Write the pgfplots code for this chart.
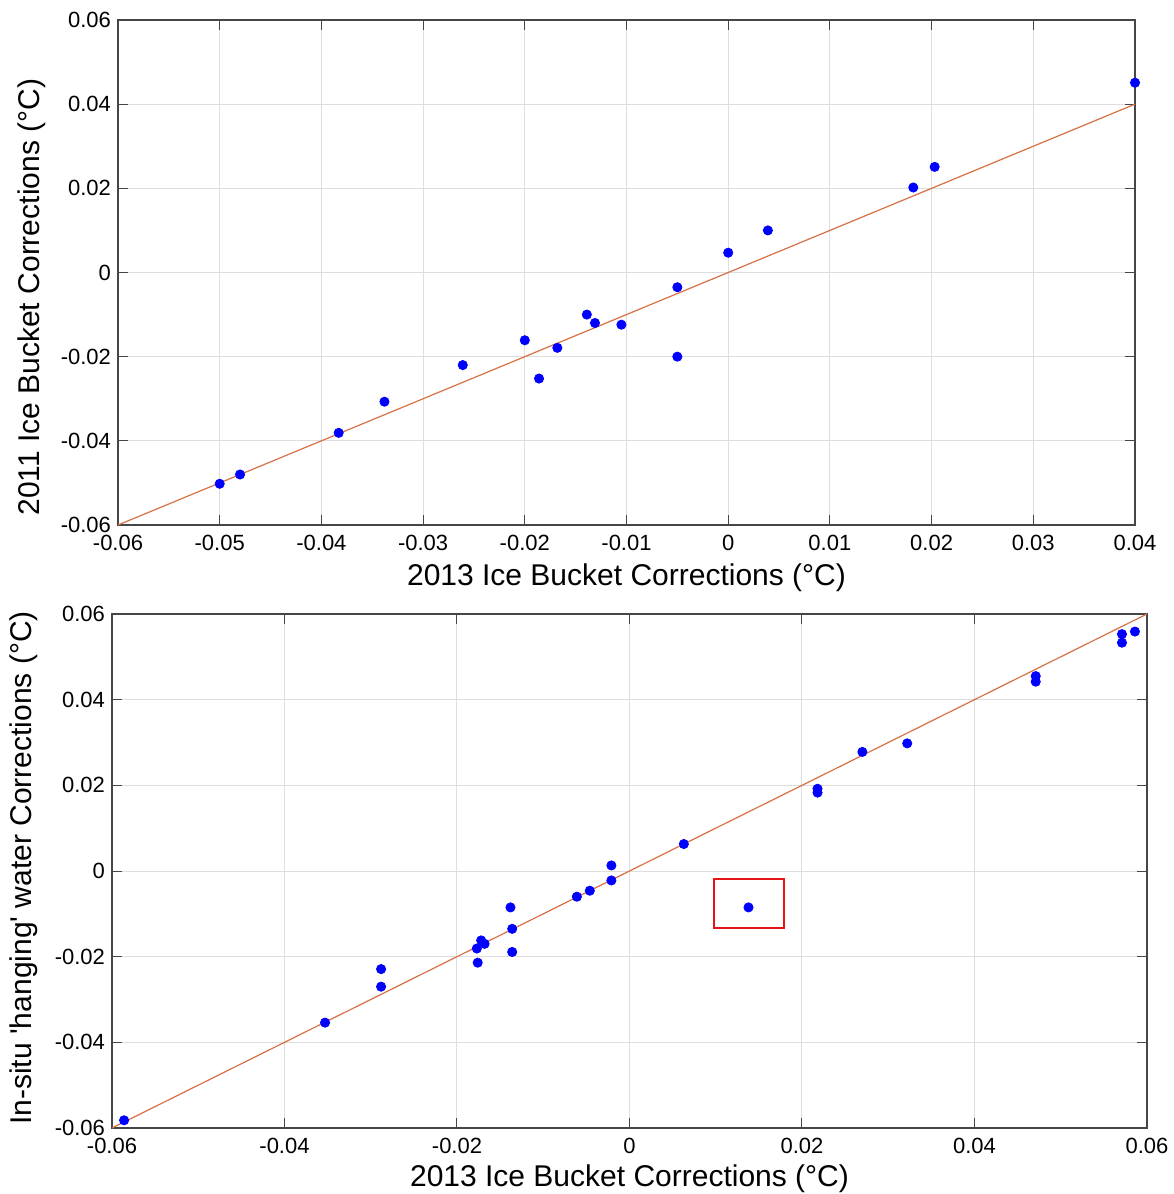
\documentclass[border=0pt]{standalone}
\usepackage{pgfplots}
\pgfplotsset{compat=1.18}
\usepackage{pgfplotstable}
\usepackage{fontspec}
\setmainfont{Liberation Sans}

\definecolor{fitline}{RGB}{216,112,70}
\definecolor{dotblue}{RGB}{0,0,255}
\definecolor{framegray}{RGB}{70,70,70}
\definecolor{gridgray}{RGB}{222,222,222}
\definecolor{boxred}{RGB}{230,20,20}

% 2013 ice bucket corrections against the 2011 ones
\pgfplotstableread{
x y
-0.0500 -0.0502
-0.0480 -0.0480
-0.0383 -0.0381
-0.0338 -0.0307
-0.0261 -0.0220
-0.0200 -0.0161
-0.0186 -0.0252
-0.0168 -0.0179
-0.0139 -0.0100
-0.0131 -0.0120
-0.0105 -0.0124
-0.0050 -0.0035
-0.0050 -0.0200
0.0000 0.0047
0.0039 0.0100
0.0182 0.0202
0.0203 0.0251
0.0400 0.0451
}\icebucket

% 2013 ice bucket corrections against in-situ hanging water
\pgfplotstableread{
x y
-0.0586 -0.0582
-0.0353 -0.0354
-0.0288 -0.0229
-0.0288 -0.0270
-0.0177 -0.0181
-0.0176 -0.0214
-0.0172 -0.0162
-0.0168 -0.0170
-0.0138 -0.0085
-0.0136 -0.0135
-0.0136 -0.0189
-0.0061 -0.0060
-0.0046 -0.0046
-0.0021 0.0013
-0.0021 -0.0022
0.0063 0.0063
0.0138 -0.0085
0.0218 0.0192
0.0218 0.0183
0.0270 0.0278
0.0322 0.0298
0.0471 0.0455
0.0471 0.0442
0.0571 0.0553
0.0571 0.0533
0.0586 0.0559
}\hanging

\newcommand{\labelfont}{\fontsize{15}{18}\selectfont}

\pgfplotsset{
  corrplot/.style={
    scale only axis,
    clip mode=individual,
    axis line style={framegray, line width=0.6pt},
    tick style={framegray, line width=0.5pt},
    tick align=inside,
    major tick length=5pt,
    grid=major,
    major grid style={gridgray, line width=0.5pt},
    ticklabel style={font=\fontsize{11}{13}\selectfont, text=black},
    xticklabel style={yshift=-1.5pt},
    scaled ticks=false,
    /pgf/number format/fixed,
    /pgf/number format/precision=2,
    /pgf/number format/assume math mode=true,
  },
  dots/.style={only marks, mark=*, mark size=2.3pt,
    mark options={draw=dotblue, fill=dotblue}},
}

\begin{document}
\begin{tikzpicture}
\path[use as bounding box] (0pt,0pt) rectangle (586.5pt,-597pt);

\begin{axis}[corrplot,
  at={(59pt,-262.5pt)}, anchor=south west,
  width=508.5pt, height=252.5pt,
  xmin=-0.06, xmax=0.04, ymin=-0.06, ymax=0.06,
  xtick={-0.06,-0.05,...,0.04},
  ytick={-0.06,-0.04,...,0.06},
  xlabel={2013 Ice Bucket Corrections (°C)},
  ylabel={2011 Ice Bucket Corrections (°C)},
  every axis x label/.style={at={(axis description cs:0.5,-0.104)}, anchor=center, font=\labelfont},
  every axis y label/.style={at={(axis description cs:-0.085,0.451)}, rotate=90, anchor=center, font=\labelfont},
]
\addplot[fitline, line width=0.6pt] coordinates {(-0.06,-0.06) (0.04,0.04)};
\addplot[dots] table[x=x, y=y] {\icebucket};
\end{axis}

\begin{axis}[corrplot,
  at={(56pt,-564pt)}, anchor=south west,
  width=517.5pt, height=257pt,
  xmin=-0.06, xmax=0.06, ymin=-0.06, ymax=0.06,
  xtick={-0.06,-0.04,...,0.06},
  ytick={-0.06,-0.04,...,0.06},
  xlabel={2013 Ice Bucket Corrections (°C)},
  ylabel={In-situ \textquotesingle hanging\textquotesingle\ water Corrections (°C)},
  every axis x label/.style={at={(axis description cs:0.5,-0.098)}, anchor=center, font=\labelfont},
  every axis y label/.style={at={(axis description cs:-0.085,0.506)}, rotate=90, anchor=center, font=\labelfont},
]
\addplot[fitline, line width=0.6pt] coordinates {(-0.06,-0.06) (0.06,0.06)};
\addplot[dots] table[x=x, y=y] {\hanging};
\draw[boxred, line width=1.2pt] (axis cs:0.0098,-0.0019) rectangle (axis cs:0.0179,-0.0133);
\end{axis}
\end{tikzpicture}
\end{document}
